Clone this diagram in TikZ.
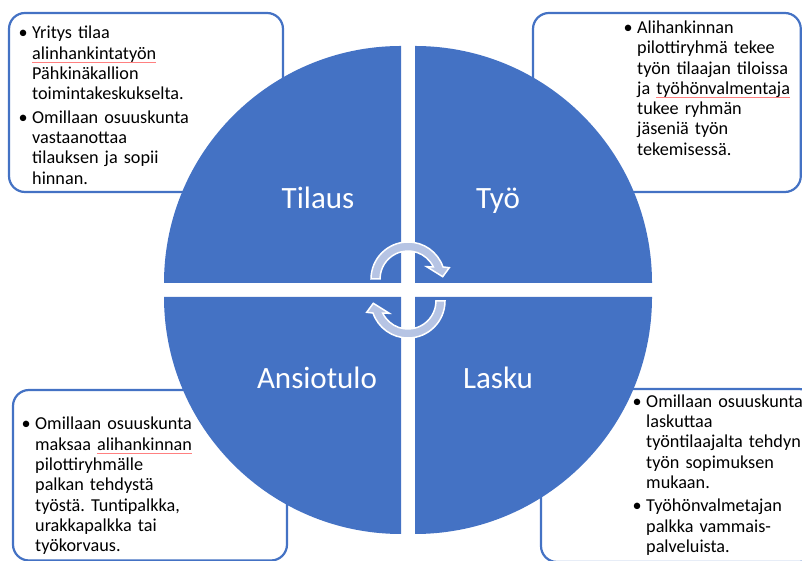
\documentclass[tikz,border=0pt]{standalone}
\usepackage{fontspec}
\setmainfont{Carlito}
\frenchspacing
\definecolor{qblue}{RGB}{68,114,196}
\definecolor{arrowfill}{RGB}{182,196,228}
\newcommand\spellerr[1]{\leavevmode\sbox0{#1}\rlap{\color{red!50}\rule[-3pt]{\wd0}{0.7pt}}\usebox0}
\newcommand\itm{\noindent\llap{\textbullet\hspace{4.5pt}}}
\tikzset{
  infobox/.style={draw=qblue, line width=2.2pt, fill=white, rounded corners=16pt},
  quad/.style={fill=qblue},
  qlabel/.style={anchor=base, inner sep=0pt, text=white, font=\fontsize{31pt}{36pt}\selectfont},
  boxtext/.style={anchor=base west, inner sep=0pt, text width=230pt, align=left, text=black, font=\fontsize{18.2pt}{20.3pt}\selectfont\frenchspacing},
  cyc/.style={fill=arrowfill, draw=white, line width=1.5pt, line join=miter}
}
\begin{document}
\begin{tikzpicture}[x=1pt,y=1pt]
\useasboundingbox (0,0) rectangle (802,561);
\clip (0,0) rectangle (802,561);
% info boxes
\draw[infobox] (9,369) rectangle (283,548);
\draw[infobox] (533,369) rectangle (800.8,548);
\draw[infobox] (13,0.5) rectangle (287,171);
\draw[infobox] (541,-1) rectangle (815,172);
% texts
\node[boxtext] (ttl) at (32,522) {\itm Yritys tilaa\\ \spellerr{alinhankintatyön}\\ Pähkinäkallion\\ toimintakeskukselta.\par\vspace{3pt}
\itm Omillaan osuuskunta\\ vastaanottaa\\ tilauksen ja sopii\\ hinnan.};
\node[boxtext] (ttr) at (637,527.5) {\itm Alihankinnan\\ pilottiryhmä tekee\\ työn tilaajan tiloissa\\ ja \spellerr{työhönvalmentaja}\\ tukee ryhmän\\ jäseniä työn\\ tekemisessä.};
\node[boxtext] (tbl) at (35,131) {\itm Omillaan osuuskunta\\ maksaa \spellerr{alihankinnan}\\ pilottiryhmälle\\ palkan tehdystä\\ työstä. Tuntipalkka,\\ urakkapalkka tai\\ työkorvaus.};
\node[boxtext] (tbr) at (646,153.7) {\itm Omillaan osuuskunta\\ laskuttaa\\ työntilaajalta tehdyn\\ työn sopimuksen\\ mukaan.\par\vspace{3pt}
\itm Työhönvalmetajan\\ palkka vammais-\\ palveluista.};
% quadrants
\fill[quad] (401,278) -- ++(-237,0) arc[start angle=180,end angle=90,radius=237] -- cycle;
\fill[quad] (415,278) -- ++(0,237) arc[start angle=90,end angle=0,radius=237] -- cycle;
\fill[quad] (401,264) -- ++(-237,0) arc[start angle=180,end angle=270,radius=237] -- cycle;
\fill[quad] (415,264) -- ++(237,0) arc[start angle=0,end angle=-90,radius=237] -- cycle;
% labels
\node[qlabel] (l1) at (318,352) {Tilaus};
\node[qlabel] (l2) at (498,352) {Työ};
\node[qlabel] (l3) at (317,172.7) {Ansiotulo};
\node[qlabel] (l4) at (498,172.7) {Lasku};
% cycle arrows
\begin{scope}[shift={(408,282)}]
\path[cyc] (-37,0) arc[start angle=180,end angle=19,radius=37] -- (41.3,11.3) -- (34.7,2.3) -- (18.7,12.3) -- (25.3,12.1) arc[start angle=25.6,end angle=180,radius=28] -- cycle;
\end{scope}
\begin{scope}[shift={(408,260)},rotate=180]
\path[cyc] (-37,0) arc[start angle=180,end angle=19,radius=37] -- (41.3,11.3) -- (34.7,2.3) -- (18.7,12.3) -- (25.3,12.1) arc[start angle=25.6,end angle=180,radius=28] -- cycle;
\end{scope}
\end{tikzpicture}
\end{document}
